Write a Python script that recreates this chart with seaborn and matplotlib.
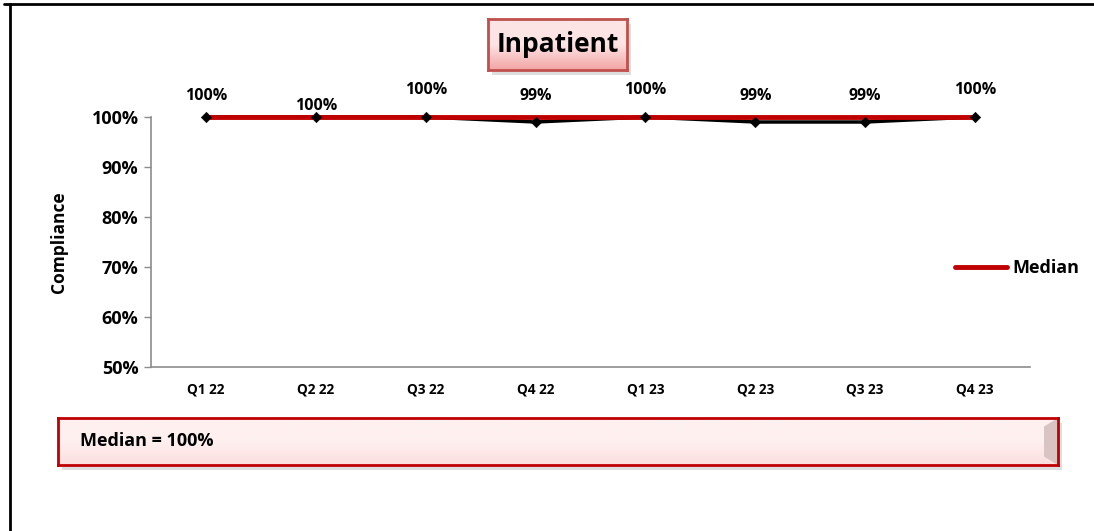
"""
Inpatient compliance by quarter, with median line.
"""

import numpy as np
import pandas as pd
import matplotlib.pyplot as plt
import seaborn as sns
from matplotlib.patches import Rectangle, Polygon
from matplotlib.lines import Line2D
from matplotlib.colors import LinearSegmentedColormap

# ---------------------------------------------
# DATA
# ---------------------------------------------

quarters = ["Q1 22", "Q2 22", "Q3 22", "Q4 22", "Q1 23", "Q2 23", "Q3 23", "Q4 23"]
compliance = [1.00, 1.00, 1.00, 0.99, 1.00, 0.99, 0.99, 1.00]
median = [1.00, 1.00, 1.00, 1.00, 1.00, 1.00, 1.00, 1.00]
data_labels = ["100%", "100%", "100%", "99%", "100%", "99%", "99%", "100%"]
yticks = [0.5, 0.6, 0.7, 0.8, 0.9, 1.0]

# label offsets above each point (pixels), as Excel placed them
label_offsets = [21, 11, 27, 26, 27, 26, 26, 27]

# ---------------------------------------------
# STYLE
# ---------------------------------------------

sns.set_style("white")
plt.rcParams["font.family"] = ["Open Sans", "DejaVu Sans"]
plt.rcParams["font.weight"] = "bold"
plt.rcParams["text.color"] = "black"
plt.rcParams["xtick.color"] = "black"
plt.rcParams["ytick.color"] = "black"
plt.rcParams["axes.labelcolor"] = "black"

RED = "#c00000"
SPINE = "#8c8c8c"
W, H = 1094, 531

df = pd.DataFrame({"Quarter": quarters, "Compliance": compliance, "Median": median})

fig = plt.figure(figsize=(W / 100, H / 100), dpi=100)
ax = fig.add_axes([151 / W, 1 - 367 / H, 879 / W, 250 / H])

sns.lineplot(data=df, x="Quarter", y="Compliance", sort=False, color="black",
             linewidth=2.5, ax=ax, zorder=2, label="_nolegend_")
sns.lineplot(data=df, x="Quarter", y="Median", sort=False, color=RED,
             linewidth=3.5, ax=ax, zorder=3, label="Median")
sns.scatterplot(data=df, x="Quarter", y="Compliance", marker="D", s=28,
                color="black", edgecolor="black", ax=ax, zorder=4,
                label="_nolegend_")
for line in ax.lines:
    line.set_clip_on(False)
for coll in ax.collections:
    coll.set_clip_on(False)

for i, (v, txt, off) in enumerate(zip(compliance, data_labels, label_offsets)):
    ax.annotate(txt, (i, v), xytext=(0, off), textcoords="offset pixels",
                ha="center", va="center", fontsize=11.5, fontweight="bold")

ax.set_xlim(-0.5, len(quarters) - 0.5)
ax.set_ylim(0.5, 1.0)
ax.set_yticks(yticks)
ax.set_yticklabels([f"{int(round(t * 100))}%" for t in yticks],
                   fontsize=13, fontweight="bold")
ax.set_xticks(range(len(quarters)))
ax.set_xticklabels(quarters, fontsize=9.8, fontweight="bold")
ax.tick_params(axis="y", length=5, width=1, color=SPINE, direction="out", pad=4, left=True)
ax.tick_params(axis="x", length=0, pad=11)
ax.set_xlabel("")
ax.set_ylabel("Compliance", fontsize=12.5, fontweight="bold", labelpad=17)

for side in ["top", "right"]:
    ax.spines[side].set_visible(False)
for side in ["left", "bottom"]:
    ax.spines[side].set_color(SPINE)
    ax.spines[side].set_linewidth(1.2)

leg = ax.legend(loc="center left", bbox_to_anchor=(955 / W, 1 - 268 / H),
                bbox_transform=fig.transFigure, frameon=False, fontsize=13,
                handlelength=2.9, handletextpad=0.25, borderpad=0, borderaxespad=0)
for t in leg.get_texts():
    t.set_fontweight("bold")

# ---------------------------------------------
# DECORATION: frame, title box, median box
# ---------------------------------------------

fig.add_artist(Line2D([4 / W, 1.0], [1 - 4 / H] * 2, color="black",
                      linewidth=2, transform=fig.transFigure))
fig.add_artist(Line2D([10 / W] * 2, [0, 1 - 4 / H], color="black",
                      linewidth=2, transform=fig.transFigure))


def add_box(x0, y0, x1, y1, top_col, bot_col, edge, lw):
    # shadow
    fig.add_artist(Rectangle(((x0 + 4) / W, 1 - (y1 + 5) / H),
                             (x1 - x0) / W, (y1 - y0) / H,
                             transform=fig.transFigure, facecolor="#c8c8c8",
                             edgecolor="none", alpha=0.6, zorder=1))
    # vertical gradient fill
    bax = fig.add_axes([x0 / W, 1 - y1 / H, (x1 - x0) / W, (y1 - y0) / H], zorder=2)
    cmap = LinearSegmentedColormap.from_list("g", [top_col, top_col, bot_col])
    bax.imshow(np.linspace(0, 1, 64).reshape(-1, 1), cmap=cmap, aspect="auto",
               extent=[0, 1, 1, 0])
    bax.set_xlim(0, 1)
    bax.set_ylim(1, 0)
    bax.set_xticks([])
    bax.set_yticks([])
    for s in bax.spines.values():
        s.set_color(edge)
        s.set_linewidth(lw)
    return bax


tax = add_box(488, 19, 627, 70, "#fde4e4", "#f3a5a5", "#c0504d", 2)
tax.text(0.5, 0.5, "Inpatient", ha="center", va="center",
         fontsize=19, fontweight="bold", transform=tax.transAxes)

max_ = add_box(58, 418, 1058, 465, "#fff0f0", "#fbdede", RED, 2)
# bevel on the right end
max_.add_patch(Polygon([[0.986, 0.18], [1.0, 0.0], [1.0, 1.0], [0.986, 0.82]],
                       closed=True, facecolor="#d9c3c3", edgecolor="none",
                       transform=max_.transAxes))
max_.text(22 / 1000, 0.5, "Median = 100%", ha="left", va="center",
          fontsize=13, fontweight="bold", transform=max_.transAxes)

fig.savefig("out.png", dpi=100)
plt.close(fig)
